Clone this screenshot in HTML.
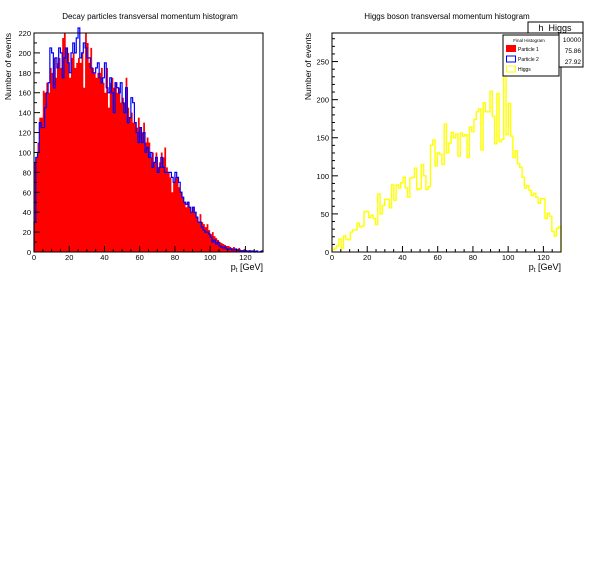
<!DOCTYPE html>
<html><head><meta charset="utf-8"><style>
body{margin:0;background:#fff;}
svg{display:block;font-family:"Liberation Sans",sans-serif;}
</style></head><body>
<svg id="c" width="596" height="572" xmlns="http://www.w3.org/2000/svg">
<rect width="596" height="572" fill="#fff"/>
<text x="150" y="19" font-size="8" text-anchor="middle">Decay particles transversal momentum histogram</text>
<text x="447" y="19" font-size="8" text-anchor="middle">Higgs boson transversal momentum histogram</text>
<g id="L"></g>
<g id="R"></g>
<text transform="translate(11,33) rotate(-90)" font-size="8.5" text-anchor="end">Number of events</text>
<text x="263" y="270" font-size="9" text-anchor="end">p<tspan font-size="6" dy="2">t</tspan><tspan dy="-2"> [GeV]</tspan></text>
<text transform="translate(311,33) rotate(-90)" font-size="8.5" text-anchor="end">Number of events</text>
<text x="561" y="270" font-size="9" text-anchor="end">p<tspan font-size="6" dy="2">t</tspan><tspan dy="-2"> [GeV]</tspan></text>
<g>
<rect x="528" y="22" width="55" height="11" fill="#fff" stroke="#000" stroke-width="1"/>
<text x="555" y="31" font-size="9" text-anchor="middle">h_Higgs</text>
<rect x="559" y="33" width="24" height="34" fill="#fff" stroke="#000" stroke-width="1"/>
<text x="581" y="42" font-size="6.5" text-anchor="end">10000</text>
<text x="581" y="53" font-size="6.5" text-anchor="end">75.86</text>
<text x="581" y="64" font-size="6.5" text-anchor="end">27.92</text>
</g>
<g>
<rect x="503" y="35" width="56" height="41" fill="#fff" stroke="#000" stroke-width="1"/>
<text x="529" y="42" font-size="4.5" text-anchor="middle">Final Histogram</text>
<rect x="506" y="45" width="10" height="7" fill="#f00"/>
<text x="518" y="51" font-size="5">Particle 1</text>
<rect x="506.5" y="56" width="9" height="6" fill="none" stroke="#00f"/>
<text x="518" y="61" font-size="5">Particle 2</text>
<rect x="506.5" y="66" width="9" height="6" fill="none" stroke="#ff0"/>
<text x="518" y="71" font-size="5">Higgs</text>
</g>
</svg>
<script>
const redVals=[90,95,110,135,135,162,160,170,160,185,180,195,175,190,195,185,215,220,205,200,175,195,200,185,190,195,190,200,165,220,210,190,205,185,180,175,180,180,185,170,160,185,145,170,175,165,170,160,165,150,155,150,175,145,135,140,130,130,125,135,125,120,130,110,115,110,95,100,90,100,85,90,100,95,105,85,80,75,60,70,75,75,65,60,55,50,45,50,45,40,45,40,35,30,38,30,28,25,28,22,18,20,16,14,12,10,9,8,7,6,6,5,4,5,3,3,4,2,2,3,2,1,2,1,1,1,1,0,1,0];
const blueVals=[30,95,100,130,125,125,145,160,170,205,200,165,195,185,205,200,175,195,205,190,180,200,210,200,215,225,195,200,210,205,195,195,185,180,180,185,190,175,170,175,190,165,160,175,160,140,170,165,160,170,150,140,165,130,135,155,150,130,120,110,125,110,120,100,105,95,100,85,90,95,80,85,95,85,80,80,80,80,75,70,80,75,70,60,55,50,48,50,45,40,45,40,35,30,30,25,22,20,20,18,15,10,12,8,10,6,5,4,5,3,3,3,2,2,3,2,2,1,1,1,1,1,0,1,1,0,1,0,0,1];
const higgsVals=[3,5,8,17,5,21,17,16,26,29,29,38,33,34,53,53,45,48,44,36,76,50,61,69,69,58,88,68,88,84,91,98,84,72,97,98,110,82,83,115,100,82,86,140,147,113,130,128,115,168,130,143,157,150,155,126,156,152,154,124,164,158,174,184,188,134,196,184,184,211,178,142,208,145,148,238,154,195,152,124,133,116,111,98,84,87,81,74,77,72,64,70,70,44,51,47,27,21,31,33];
const leftYTicks=[0,20,40,60,80,100,120,140,160,180,200,220];
const rightYTicks=[0,50,100,150,200,250];
const xTicks=[0,20,40,60,80,100,120];
const NS="http://www.w3.org/2000/svg";
function mk(t,a,p){const e=document.createElementNS(NS,t);for(const k in a)e.setAttribute(k,a[k]);p.appendChild(e);return e;}
function axes(g,x0,x1,y0,y1,ymax,yT,yMinor,xmax){
  const sx=v=>x0+(x1-x0)*v/xmax, sy=v=>y0-(y0-y1)*v/ymax;
  return {sx,sy,draw(){
    mk('rect',{x:x0,y:y1,width:x1-x0,height:y0-y1,fill:'none',stroke:'#000','stroke-width':1},g);
    for(let v=0;v<=ymax+1e-9;v+=yMinor){const major=yT.includes(v);
      mk('line',{x1:x0,x2:x0+(major?6:3),y1:sy(v),y2:sy(v),stroke:'#000','stroke-width':1},g);}
    yT.forEach(v=>{const t=mk('text',{x:x0-3,y:sy(v)+3,'font-size':7.5,'text-anchor':'end'},g);t.textContent=v;
      
      });
    for(let v=0;v<=xmax;v+=5){const major=v%20===0;
      mk('line',{x1:sx(v),x2:sx(v),y1:y0,y2:y0-(major?6:3),stroke:'#000','stroke-width':1},g);}
    xTicks.forEach(v=>{const t=mk('text',{x:sx(v),y:y0+8,'font-size':7.5,'text-anchor':'middle'},g);t.textContent=v;
      
      });
  }};
}
function stepPath(vals,bw,sx,sy){let d='M'+sx(0)+','+sy(0);
  vals.forEach((v,i)=>{d+=' L'+sx(i*bw)+','+sy(v)+' L'+sx((i+1)*bw)+','+sy(v);});
  d+=' L'+sx(vals.length*bw)+','+sy(0);return d;}
const L=document.getElementById('L');
const la=axes(L,34,263,252,33,220,leftYTicks,10,130);
const rp=mk('path',{d:stepPath(redVals,1,la.sx,la.sy)+' Z',fill:'#f00',stroke:'none'},L);


const bp=mk('path',{d:stepPath(blueVals,1,la.sx,la.sy),fill:'none',stroke:'#00f','stroke-width':1.2},L);


la.draw();
const R=document.getElementById('R');
const ra=axes(R,332,561,252,33,287.5,rightYTicks,10,130);
const hp=mk('path',{d:stepPath(higgsVals,1.3,ra.sx,ra.sy),fill:'none',stroke:'#ff0','stroke-width':1.4},R);


ra.draw();
</script>
</body></html>
